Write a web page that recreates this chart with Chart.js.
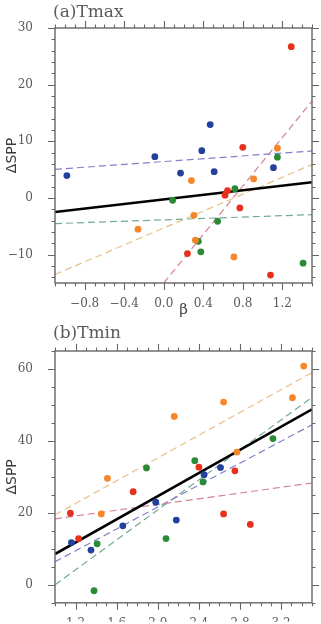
<!DOCTYPE html>
<html>
<head>
<meta charset="utf-8">
<script src="https://cdn.jsdelivr.net/npm/chart.js@4.4.1/dist/chart.umd.min.js"></script>
<style>
  html, body { margin: 0; padding: 0; background: #fff; }
  #wrap { position: relative; width: 321px; height: 624px; }
  canvas { position: absolute; left: 0; }
</style>
</head>
<body>
<div id="wrap">
  <canvas id="chartA" width="321" height="320" style="top:0"></canvas>
  <canvas id="chartB" width="321" height="304" style="top:320px"></canvas>
</div>
<script>
// ---- data (a) Tmax : [beta, dSPP]
const tmaxBlue   = [[-0.98, 3.95], [-0.09, 7.3], [0.385, 8.35], [0.47, 12.95], [0.17, 4.4], [0.51, 4.65], [1.11, 5.35]];
const tmaxRed    = [[1.29, 26.7], [0.80, 8.95], [0.645, 1.3], [0.62, 0.5], [0.77, -1.75], [0.24, -9.8], [1.08, -13.6]];
const tmaxOrange = [[1.15, 8.8], [0.28, 3.07], [0.91, 3.36], [0.305, -3.05], [-0.26, -5.5], [0.32, -7.45], [0.71, -10.4]];
const tmaxGreen  = [[1.15, 7.2], [0.72, 1.65], [0.09, -0.4], [0.545, -4.1], [0.35, -7.65], [0.375, -9.5], [1.41, -11.5]];
// regression lines (a)
const tmaxFitAll    = [[-1.1, -2.47], [1.5, 2.77]];
const tmaxFitBlue   = [[-1.1, 5.06], [1.5, 8.3]];
const tmaxFitGreen  = [[-1.1, -4.52], [1.5, -2.94]];
const tmaxFitOrange = [[-1.1, -13.5], [1.5, 5.9]];
const tmaxFitRed    = [[0.0, -15], [1.5, 17.1]];

// ---- data (b) Tmin
const tminOrange = [[3.42, 60.8], [3.31, 52.0], [2.64, 50.8], [2.16, 46.8], [2.77, 36.9], [1.51, 29.6], [1.45, 19.7]];
const tminGreen  = [[3.12, 40.65], [2.36, 34.5], [1.89, 32.5], [2.44, 28.6], [1.41, 11.4], [2.08, 12.85], [1.38, -1.65]];
const tminRed    = [[2.40, 32.7], [2.75, 31.7], [1.76, 25.9], [1.15, 19.9], [1.23, 12.85], [2.64, 19.7], [2.90, 16.8]];
const tminBlue   = [[2.61, 32.6], [2.45, 30.6], [1.98, 22.95], [2.18, 18.0], [1.66, 16.4], [1.16, 11.75], [1.35, 9.65]];
// regression lines (b)
const tminFitAll    = [[1.0, 8.55], [3.5, 48.8]];
const tminFitOrange = [[1.0, 19.45], [3.5, 59.0]];
const tminFitRed    = [[1.0, 18.35], [3.5, 28.3]];
const tminFitBlue   = [[1.0, 6.4], [3.5, 44.5]];
const tminFitGreen  = [[1.0, 0.0], [3.5, 52.1]];

// axis ranges
const tmaxXRange = [-1.1, 1.5], tmaxYRange = [-15, 30];
const tminXRange = [1.0, 3.5],  tminYRange = [-5, 65];

const COL = { blue: '#22409c', red: '#e8301e', orange: '#f5862a', green: '#2a8a36' };
const DASH = { blue: '#8080c8', red: '#cf8498', orange: '#e8c088', green: '#72ac8e' };
const GREY = '#5a5a5a';

const toXY = arr => arr.map(([x, y]) => ({ x, y }));
const fmt = (v, d) => (v < 0 ? '\u2212' : '') + Math.abs(v).toFixed(d);

function pts(data, color) {
    return { data: toXY(data), backgroundColor: color, borderColor: color, pointRadius: 3.4, pointBorderWidth: 0, showLine: false };
}
function fit(data, color, solid) {
    return {
        data: toXY(data), showLine: true, pointRadius: 0, borderColor: color,
        borderWidth: solid ? 2.6 : 1.2, borderDash: solid ? [] : [7, 4]
    };
}

// frame + major/minor ticks on all four sides, plus panel title
function makeFrame(f) {
    return {
        id: 'frame',
        afterDraw(chart) {
            const { ctx, chartArea: a } = chart;
            const sx = chart.scales.x, sy = chart.scales.y;
            ctx.save();
            ctx.strokeStyle = '#666';
            ctx.lineWidth = 1.4;
            ctx.strokeRect(a.left, a.top, a.right - a.left, a.bottom - a.top);
            ctx.lineWidth = 1.1;
            ctx.beginPath();
            for (let i = Math.ceil(sx.min / f.xMinor - 1e-6); i * f.xMinor <= sx.max + 1e-6; i++) {
                const v = i * f.xMinor;
                const len = Math.abs(v / f.xMajor - Math.round(v / f.xMajor)) < 1e-6 ? 7 : 3.5;
                const px = Math.round(sx.getPixelForValue(v)) + 0.5;
                ctx.moveTo(px, a.bottom); ctx.lineTo(px, a.bottom + len);
                ctx.moveTo(px, a.top); ctx.lineTo(px, a.top - len);
            }
            for (let i = Math.ceil(sy.min / f.yMinor - 1e-6); i * f.yMinor <= sy.max + 1e-6; i++) {
                const v = i * f.yMinor;
                const len = Math.abs(v / f.yMajor - Math.round(v / f.yMajor)) < 1e-6 ? 7 : 3.5;
                const py = Math.round(sy.getPixelForValue(v)) + 0.5;
                ctx.moveTo(a.left, py); ctx.lineTo(a.left - len, py);
                ctx.moveTo(a.right, py); ctx.lineTo(a.right + len, py);
            }
            ctx.stroke();
            ctx.fillStyle = GREY;
            ctx.font = '17px "DejaVu Serif"';
            ctx.textBaseline = 'alphabetic';
            ctx.textAlign = 'left';
            ctx.fillText(f.title, 53, f.titleY);
            ctx.restore();
        }
    };
}

function makePanel(id, datasets, xr, yr, opt) {
    return new Chart(document.getElementById(id), {
        type: 'scatter',
        data: { datasets },
        plugins: [makeFrame(opt.frame)],
        options: {
            responsive: false,
            animation: false,
            events: [],
            layout: { padding: { top: opt.top, right: 9, left: 0, bottom: 0 } },
            plugins: { legend: { display: false }, tooltip: { enabled: false } },
            scales: {
                x: {
                    type: 'linear', min: xr[0], max: xr[1],
                    grid: { display: false }, border: { display: false },
                    ticks: {
                        stepSize: 0.4, includeBounds: false, padding: 6, color: GREY,
                        font: { family: 'DejaVu Serif', size: 12 },
                        callback: v => fmt(v, 1)
                    },
                    title: {
                        display: !!opt.xTitle, text: opt.xTitle || '', color: '#444',
                        font: { family: 'DejaVu Serif', size: 15 }, padding: { top: 0, bottom: 0.5 }
                    },
                    afterFit: s => { s.height = opt.xHeight; }
                },
                y: {
                    type: 'linear', min: yr[0], max: yr[1],
                    grid: { display: false }, border: { display: false },
                    ticks: {
                        stepSize: opt.yStep, includeBounds: false, padding: 14, color: GREY,
                        font: { family: 'DejaVu Serif', size: 12 },
                        callback: v => fmt(v, 0)
                    },
                    title: {
                        display: true, text: '\u0394SPP', color: '#3a3a3a',
                        font: { family: 'DejaVu Sans', size: 14 }, padding: { top: 3.6, bottom: 0 }
                    },
                    afterFit: s => { s.width = 55; }
                }
            }
        }
    });
}

// (a) Tmax
makePanel('chartA', [
    pts(tmaxBlue, COL.blue), pts(tmaxRed, COL.red), pts(tmaxOrange, COL.orange), pts(tmaxGreen, COL.green),
    fit(tmaxFitAll, '#000', true),
    fit(tmaxFitBlue, DASH.blue), fit(tmaxFitGreen, DASH.green),
    fit(tmaxFitOrange, DASH.orange), fit(tmaxFitRed, DASH.red)
], tmaxXRange, tmaxYRange, {
    top: 28, xHeight: 37, yStep: 10, xTitle: '\u03b2',
    frame: { xMajor: 0.4, xMinor: 0.1, yMajor: 10, yMinor: 2, title: '(a)Tmax', titleY: 17 }
});

// (b) Tmin
makePanel('chartB', [
    pts(tminOrange, COL.orange), pts(tminGreen, COL.green), pts(tminRed, COL.red), pts(tminBlue, COL.blue),
    fit(tminFitAll, '#000', true),
    fit(tminFitOrange, DASH.orange), fit(tminFitRed, DASH.red),
    fit(tminFitBlue, DASH.blue), fit(tminFitGreen, DASH.green)
], tminXRange, tminYRange, {
    top: 31, xHeight: 19, yStep: 20, xTitle: null,
    frame: { xMajor: 0.4, xMinor: 0.1, yMajor: 20, yMinor: 5, title: '(b)Tmin', titleY: 18 }
});
</script>
</body>
</html>
